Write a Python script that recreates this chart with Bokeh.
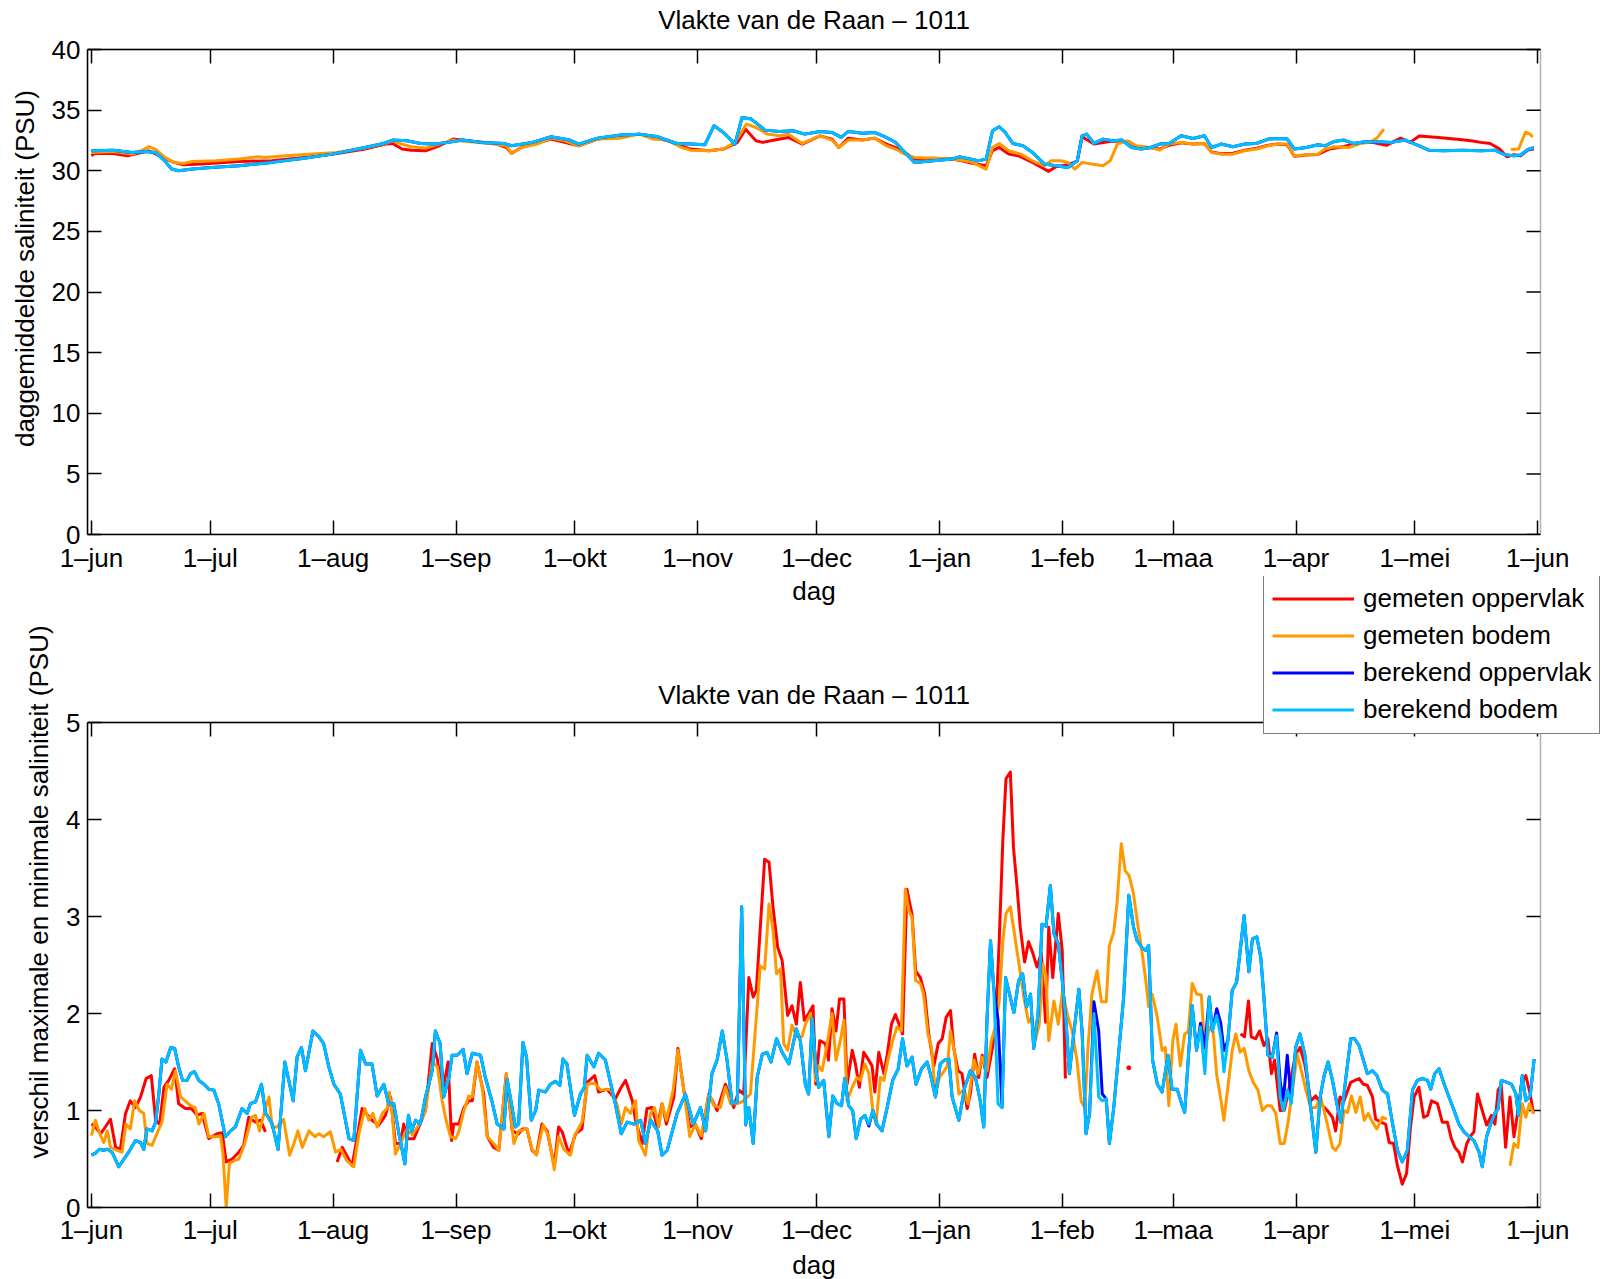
import numpy as np
from bokeh.plotting import figure
from bokeh.models import Range1d, FixedTicker, LinearAxis, Legend, LegendItem, Label, BoxAnnotation, Title
from bokeh.layouts import column
from bokeh.embed import file_html
from bokeh.resources import INLINE

nan = float("nan")

# ---------------- axis data ----------------
maand_dag = [0, 30, 61, 92, 122, 153, 183, 214, 245, 273, 304, 334, 365]
maand_label = ["1–jun", "1–jul", "1–aug", "1–sep", "1–okt", "1–nov", "1–dec",
               "1–jan", "1–feb", "1–maa", "1–apr", "1–mei", "1–jun"]
yticks_boven = [0, 5, 10, 15, 20, 25, 30, 35, 40]
yticks_onder = [0, 1, 2, 3, 4, 5]
titel = "Vlakte van de Raan – 1011"
ylabel_boven = "daggemiddelde saliniteit (PSU)"
ylabel_onder = "verschil maximale en minimale saliniteit (PSU)"
xlabel = "dag"
namen = ["gemeten oppervlak", "gemeten bodem", "berekend oppervlak", "berekend bodem"]

# ---------------- top panel: daily mean salinity ----------------
dag_gem_opp_boven = [0, 0.8, 5.5, 9.1, 14.4, 18.5, 20.8, 23.2, 27.9, 37.3, 45.5, 53.7, 62, 69, 74.3, 76, 78.4, 80.7, 84.3, 87.8,
    91.3, 94.8, 101.9, 104.8, 106, 108.4, 116, 123, 127.7, 138.3, 145.4, 151.2, 155.9, 159.5, 163, 165.1, 167.7, 169.4, 172.4, 175.9,
    179.4, 183.9, 186.9, 188.6, 191, 194.6, 197.6, 200.6, 202.9, 205.3, 207.7, 212.5, 217.2, 219.6, 222.6, 225.8, 227.4, 229.1, 231.5, 233.9,
    237.5, 240.5, 241.6, 243.4, 246.4, 248.8, 250, 253, 257.7, 261.9, 263.7, 267.3, 269.6, 272, 275, 278, 280.9, 282.7, 285.1, 288.1,
    291.1, 294, 297, 299.4, 301.8, 303.6, 306.6, 309.5, 312.5, 316.1, 319.7, 323.2, 326.8, 330.4, 332.8, 335.1, 339.9, 344.7, 348.2, 350.6,
    353, 355.4, 357.2, 359, 360.7, 362.5, 364]
gem_opp_boven = [31.24, 31.43, 31.43, 31.24, 31.65, 31.04, 30.69, 30.50, 30.55, 30.77, 30.82, 31.10, 31.43, 31.79, 32.20, 32.25, 31.79, 31.70, 31.65, 32.06,
    32.61, 32.47, 32.25, 31.92, 31.43, 31.92, 32.61, 32.06, 32.61, 33.02, 32.47, 31.79, 31.65, 31.79, 32.34, 33.43, 32.47, 32.34, 32.53, 32.75,
    32.20, 32.88, 32.61, 31.92, 32.69, 32.53, 32.69, 32.20, 31.92, 31.51, 30.96, 31.04, 30.96, 30.82, 30.60, 30.41, 31.65, 31.92, 31.37, 31.24,
    30.69, 30.14, 29.95, 30.33, 30.50, 30.80, 32.80, 32.20, 32.45, 32.40, 31.95, 31.90, 31.80, 32.10, 32.30, 32.20, 32.25, 31.55, 31.40, 31.45,
    31.70, 31.85, 32.10, 32.20, 32.15, 31.20, 31.30, 31.35, 31.80, 32.00, 32.30, 32.35, 32.10, 32.69, 32.34, 32.86, 32.75, 32.60, 32.47, 32.34,
    32.25, 31.79, 31.15, 31.32, 31.24, 31.70, 31.80]

dag_gem_bod_boven = [0, 5.5, 10.2, 12.6, 14.4, 16.1, 18.5, 20.8, 23.2, 25.5, 31.4, 37.3, 42, 43.7, 49, 54.9, 62, 69, 73.7, 76,
    78.4, 80.7, 84.3, 87.8, 91.3, 94.8, 100.7, 104.8, 106, 108.4, 112.5, 116, 119.5, 123, 127.7, 133.6, 138.3, 141.8, 145.4, 148.9,
    151.2, 155.9, 159.5, 162.4, 165.3, 167.7, 170.6, 173.6, 175.9, 179.4, 183.9, 186.9, 188.6, 191, 194.6, 197.6, 200.6, 202.9, 205.3, 207.7,
    212.5, 217.2, 222, 225.8, 227.4, 229.1, 231.5, 234.5, 237.5, 240.5, 242.2, 244.6, 246.4, 248.2, 250, 252.4, 255.3, 257.1, 258.9, 261.3,
    263.7, 267.3, 269.6, 272, 275, 278, 280.9, 282.7, 285.1, 288.1, 291.1, 294, 297, 299.4, 301.8, 303.6, 306.6, 309.5, 311.3, 313.7,
    317.3, 320.2, 322.6, 324.4, 326.2, 340, 358.2, 360.2, 361.9, 362.9, 363.8]
gem_bod_boven = [31.51, 31.59, 31.37, 31.65, 31.98, 31.79, 31.10, 30.69, 30.60, 30.77, 30.82, 30.96, 31.15, 31.10, 31.24, 31.37, 31.51, 31.87, 32.20, 32.47,
    32.20, 31.98, 31.87, 32.20, 32.53, 32.42, 32.25, 32.06, 31.43, 31.92, 32.20, 32.69, 32.47, 32.06, 32.61, 32.69, 33.02, 32.61, 32.53, 31.92,
    31.70, 31.65, 31.79, 32.34, 33.85, 33.57, 33.02, 32.88, 33.02, 32.25, 32.88, 32.53, 31.92, 32.53, 32.53, 32.69, 32.06, 31.79, 31.37, 31.10,
    31.04, 30.96, 30.74, 30.14, 31.92, 32.25, 31.65, 31.37, 30.82, 30.41, 30.82, 30.82, 30.69, 30.14, 30.69, 30.55, 30.41, 30.82, 32.20, 32.47,
    32.06, 31.92, 31.70, 32.20, 32.34, 32.20, 32.25, 31.51, 31.37, 31.37, 31.65, 31.79, 32.06, 32.20, 32.20, 31.24, 31.32, 31.37, 31.79, 31.98,
    31.92, 32.25, 32.34, 32.69, 33.43, nan, 31.75, 31.80, 33.18, 33.05, 32.80]

dag_ber_boven = [0, 5.5, 10.2, 13.8, 16.1, 18.5, 20.2, 22, 25.5, 30.2, 37.3, 45.5, 53.7, 60.8, 69, 73.7, 76, 79.6, 83.1, 86.6,
    90.1, 93.7, 98.4, 104.2, 106, 111.3, 116, 120.7, 123, 127.7, 133.6, 138.3, 143, 147.7, 151.2, 154.8, 157.1, 159.5, 162.4, 164.2,
    166.5, 170, 173.6, 177.1, 180, 183.9, 186.9, 189.2, 191, 194.6, 197.6, 200.6, 202.9, 205.3, 207.7, 212.5, 217.2, 219, 222, 223.8,
    225.8, 227.4, 229.1, 230.6, 232.5, 235.1, 237.5, 240.5, 243.4, 246.4, 248.8, 250, 251.2, 253, 255.3, 257.7, 260.1, 262.5, 264.9, 267.3,
    269.6, 272, 275, 278, 280.9, 282.7, 285.1, 288.1, 291.1, 294, 297, 299.4, 301.8, 303.6, 306.6, 309.5, 311.3, 313.7, 316.1, 318.5,
    321.4, 324.4, 328, 331.6, 335.1, 337.5, 341.1, 345.9, 350.6, 354.2, 356.6, 359, 360.7, 362.5, 364]
ber_bod_boven = [31.65, 31.70, 31.51, 31.59, 31.51, 30.82, 30.14, 30.00, 30.14, 30.27, 30.41, 30.69, 31.04, 31.37, 31.92, 32.25, 32.53, 32.47, 32.25, 32.20,
    32.34, 32.53, 32.34, 32.25, 32.06, 32.34, 32.80, 32.53, 32.20, 32.69, 32.94, 33.02, 32.80, 32.25, 32.20, 32.14, 33.71, 33.16, 32.20, 34.40,
    34.26, 33.35, 33.24, 33.30, 33.02, 33.24, 33.16, 32.75, 33.24, 33.10, 33.16, 32.75, 32.34, 31.51, 30.69, 30.82, 30.96, 31.15, 30.96, 30.82,
    30.96, 33.30, 33.63, 33.16, 32.25, 32.06, 31.51, 30.55, 30.41, 30.27, 30.82, 32.88, 33.02, 32.25, 32.61, 32.47, 32.53, 31.92, 31.79, 31.92,
    32.20, 32.25, 32.88, 32.66, 32.88, 31.92, 32.20, 31.98, 32.20, 32.25, 32.61, 32.66, 32.61, 31.79, 31.92, 32.14, 32.06, 32.42, 32.53, 32.25,
    32.39, 32.39, 32.34, 32.53, 32.06, 31.70, 31.65, 31.70, 31.65, 31.70, 31.32, 31.24, 31.30, 31.75, 31.90]
# berekend oppervlak lies under berekend bodem in the top panel
ber_opp_boven = [31.65, 31.70, 31.51, 31.59, 31.51, 30.82, 30.14, 30.00, 30.14, 30.27, 30.41, 30.69, 31.04, 31.37, 31.92, 32.25, 32.53, 32.47, 32.25, 32.20,
    32.34, 32.53, 32.34, 32.25, 32.06, 32.34, 32.80, 32.53, 32.20, 32.69, 32.94, 33.02, 32.80, 32.25, 32.20, 32.14, 33.71, 33.16, 32.20, 34.40,
    34.26, 33.35, 33.24, 33.30, 33.02, 33.24, 33.16, 32.75, 33.24, 33.10, 33.16, 32.75, 32.34, 31.51, 30.69, 30.82, 30.96, 31.15, 30.96, 30.82,
    30.96, 33.30, 33.63, 33.16, 32.25, 32.06, 31.51, 30.55, 30.41, 30.27, 30.82, 32.88, 33.02, 32.25, 32.61, 32.47, 32.53, 31.92, 31.79, 31.92,
    32.20, 32.25, 32.88, 32.66, 32.88, 31.92, 32.20, 31.98, 32.20, 32.25, 32.61, 32.66, 32.61, 31.79, 31.92, 32.14, 32.06, 32.42, 32.53, 32.25,
    32.39, 32.39, 32.34, 32.53, 32.06, 31.70, 31.65, 31.70, 31.65, 31.70, 31.32, 31.24, 31.30, 31.75, 31.90]

# ---------------- bottom panel: daily max - min salinity ----------------
dag_gem_opp_onder = [0, 1, 2.3, 3.5, 4.8, 6.1, 7.3, 8.6, 9.8, 11.1, 12.4, 13.8, 15.1, 16.2, 17.2, 18.3, 19.5, 21, 22, 23.7,
    25.2, 26.7, 27.9, 29.6, 31.7, 33, 34, 35.5, 37.2, 38.4, 39.7, 41.4, 42.7, 43.9, 53, 62, 63.3, 65.8, 68.3, 70.8,
    72.5, 74.2, 75.5, 76.7, 78, 78.8, 79.7, 81.4, 82.6, 84.3, 86, 87.3, 88.5, 90, 90.9, 91.4, 92.7, 94, 95.2, 96.1,
    97.3, 99, 99.9, 101.5, 102.8, 104.7, 106.2, 107.8, 108.7, 109.9, 111.2, 112.3, 113.7, 115, 116.8, 117.9, 118.8, 120.5, 122.2, 123.8,
    125.1, 127, 128, 130.1, 132.2, 133.7, 134.8, 136.5, 137.3, 139, 140.2, 141.5, 142.8, 144, 145.1, 147, 148, 149.5, 151, 152.4,
    153.9, 155.8, 157.9, 160, 162.1, 163.4, 164.6, 165.9, 167, 167.8, 168.8, 169.9, 171, 172, 173.2, 174.3, 175.7, 176.8, 177.9, 178.9,
    179.9, 181, 182.1, 182.8, 183.8, 185.2, 186, 186.9, 187.9, 188.8, 189.9, 190.7, 192, 192.8, 193.8, 194.9, 196, 197, 197.7, 198.7,
    200, 200.8, 201.9, 202.9, 203.9, 204.7, 205.8, 207.1, 208, 209.2, 210.3, 211.3, 212.6, 213.7, 214.7, 215.7, 216.8, 217.6, 218.7, 219.7,
    221, 221.8, 222.9, 223.9, 224.8, 226, 227.1, 228.1, 229.1, 230, 230.8, 231.9, 232.7, 233.6, 234.4, 235.5, 236.5, 237.6, 238.6, 239.7,
    240.8, 241.6, 242.6, 244, 245, 245.8, 253, 261.8, 275, 290, 291, 292, 292.7, 293.8, 294.8, 295.9, 296.9, 297.8, 298.6, 300,
    301, 301.8, 303.9, 305, 306.2, 307.7, 309, 310.2, 311.9, 313.2, 314, 315.1, 316.1, 317.8, 319.9, 321, 322, 323.3, 324.1, 325.4,
    326.6, 327.5, 328.6, 329.6, 330.8, 331.9, 332.9, 333.8, 335, 336.2, 337.2, 338.2, 339.7, 340.9, 342.2, 343.2, 344.1, 345.1, 346, 347.1,
    348.1, 348.9, 349.8, 351, 352.1, 353.3, 354.2, 355, 355.8, 356.9, 358, 359, 359.9, 360.9, 362, 363.1, 363.9]
gem_opp_onder = [0.86, 0.83, 0.76, 0.83, 0.91, 0.62, 0.60, 0.97, 1.10, 1.03, 1.14, 1.33, 1.36, 0.90, 0.86, 1.24, 1.31, 1.43, 1.07, 1.02,
    1.02, 0.95, 0.97, 0.71, 0.76, 0.77, 0.47, 0.50, 0.57, 0.64, 0.93, 0.88, 0.90, 0.78, nan, 0.47, 0.62, 0.43, 1.02, 0.90,
    0.85, 0.95, 1.14, 0.66, 0.66, 0.86, 0.71, 0.71, 0.83, 1.00, 1.69, 1.53, 1.17, 1.50, 0.69, 0.86, 0.86, 1.03, 1.10, 1.10,
    1.50, 1.17, 0.73, 0.62, 0.59, 1.38, 0.79, 0.76, 0.81, 0.81, 0.59, 0.55, 0.86, 0.79, 0.43, 0.83, 0.78, 0.55, 0.76, 0.81,
    1.29, 1.36, 1.19, 1.22, 1.12, 1.24, 1.31, 1.10, 0.90, 0.66, 1.02, 1.03, 0.83, 1.07, 0.86, 1.14, 1.64, 1.21, 0.83, 0.86,
    0.71, 1.17, 1.00, 1.27, 1.03, 1.21, 1.17, 2.37, 2.17, 2.24, 2.89, 3.59, 3.56, 3.10, 2.68, 2.55, 1.98, 2.08, 1.89, 2.32,
    1.93, 2.00, 2.08, 1.27, 1.72, 1.69, 1.52, 2.05, 1.82, 2.15, 2.15, 1.27, 1.62, 1.48, 1.24, 1.60, 1.53, 1.46, 1.19, 1.60,
    1.38, 1.57, 1.89, 1.99, 1.88, 1.79, 3.28, 3.02, 2.44, 2.37, 2.20, 1.79, 1.46, 1.69, 1.74, 1.96, 2.03, 1.65, 1.41, 1.38,
    1.02, 1.17, 1.58, 1.34, 1.57, 1.34, 1.58, 1.82, 2.75, 3.78, 4.42, 4.49, 3.71, 3.30, 2.89, 2.53, 2.74, 2.62, 2.48, 2.62,
    1.91, 2.89, 2.37, 3.03, 2.65, 1.33, nan, 1.44, nan, 1.79, 1.76, 2.13, 1.76, 1.74, 1.82, 1.67, 1.74, 1.38, 1.52, 1.00,
    1.00, 1.14, 1.58, 1.65, 1.48, 1.10, 1.15, 1.07, 1.00, 0.93, 0.79, 1.14, 1.10, 1.29, 1.33, 1.27, 1.26, 1.14, 0.91, 0.88,
    0.86, 0.67, 0.66, 0.43, 0.24, 0.35, 0.83, 1.14, 1.24, 0.93, 0.95, 1.10, 1.07, 0.88, 0.88, 0.71, 0.62, 0.57, 0.47, 0.66,
    0.74, 0.78, 1.17, 1.00, 0.85, 0.95, 0.86, 1.21, 1.26, 0.62, 1.14, 0.73, 0.97, 1.27, 1.36, 1.17, 0.97]

dag_gem_bod_onder = [0, 1, 2.3, 3.1, 4, 4.8, 6.5, 7.7, 8.7, 9.8, 10.9, 12.1, 13.2, 14, 15.3, 16.6, 17.8, 19.1, 20.2, 21.2,
    22.5, 23.7, 25, 26.2, 27.1, 28.4, 29.6, 31.3, 32.6, 33.2, 34, 34.8, 35.9, 37.2, 38.7, 40.4, 41.4, 42.4, 43.9, 44.8,
    45.6, 46.9, 48.5, 50, 51.1, 52.1, 53.2, 54.9, 56.4, 57.4, 58.6, 60.3, 61.6, 62.9, 64.5, 66.2, 67.5, 69, 70, 71,
    72.1, 73.4, 74.6, 75.2, 75.9, 76.7, 78, 79.5, 81, 82.6, 84.3, 86, 87.3, 88.5, 89.5, 90.6, 91.9, 92.7, 94, 95.2,
    96.1, 97.3, 98.6, 99.9, 101.5, 102.8, 104.7, 106.6, 107.8, 109.9, 111.2, 112.3, 114, 115.4, 116.8, 117.9, 119.2, 120.9, 121.9, 123.8,
    125.1, 127, 128.5, 131, 132.7, 133.7, 134.8, 136, 137.3, 138.1, 139.8, 141.1, 142.1, 143.2, 144, 145.1, 146.8, 148, 149.5, 151,
    152.4, 153.9, 155.8, 157.1, 158.7, 160, 161.3, 163, 164.6, 166.3, 167.6, 168.8, 169.9, 171, 172, 172.9, 173.9, 174.7, 175.7, 176.8,
    178, 179.3, 180.2, 181.5, 182.7, 183.5, 184.4, 185.6, 186.9, 187.9, 189, 189.9, 190.7, 192, 193.2, 194.1, 195.2, 196.2, 197.2, 198,
    199.1, 200, 201, 202.2, 203.3, 204.4, 205.4, 206.3, 207.1, 208, 209.2, 210, 211.1, 212, 213, 214, 215.1, 216, 216.8, 217.9,
    218.9, 220.1, 221.2, 222.7, 223.8, 224.8, 226, 227.1, 228.1, 229.1, 230, 230.8, 231.9, 233.2, 234.2, 235.3, 236.5, 237.4, 238.2, 239.2,
    240.1, 240.9, 241.6, 242.9, 244, 245.1, 246.2, 247.5, 248.7, 249.8, 250.7, 251.5, 252.5, 253.8, 254.9, 256.1, 256.9, 258, 258.8, 259.9,
    260.9, 261.9, 263, 263.9, 265, 266, 266.8, 267.7, 269, 270.2, 271, 271.9, 272.9, 273.7, 274.8, 275.9, 276.8, 277.8, 278.9, 280.1,
    281, 282.1, 283.1, 284, 285, 285.8, 286.8, 287.9, 288.8, 289.9, 290.9, 292.1, 293.2, 294.4, 295.5, 296.6, 297.8, 298.9, 300, 301,
    302, 303.1, 304.3, 305.4, 306.5, 307.7, 309, 310.2, 311.9, 313.2, 314, 315.1, 316.1, 317, 318, 319.1, 320.2, 321.2, 322.2, 323.3,
    324.4, 325.8, 326.9, 342, 358, 359, 360, 361.1, 362, 362.9, 363.9]
gem_bod_onder = [0.74, 0.90, 0.74, 0.67, 0.79, 0.62, 0.59, 0.57, 0.86, 0.81, 1.10, 1.00, 0.97, 0.66, 0.64, 0.77, 0.88, 1.27, 1.22, 1.41,
    1.14, 1.10, 1.05, 1.03, 0.86, 0.97, 0.73, 0.73, 0.74, 0.55, 0.00, 0.45, 0.48, 0.50, 0.66, 0.93, 0.95, 0.79, 1.02, 1.14,
    0.83, 0.83, 0.91, 0.54, 0.66, 0.79, 0.62, 0.79, 0.73, 0.76, 0.73, 0.78, 0.57, 0.60, 0.48, 0.42, 0.76, 1.02, 0.90, 0.97,
    0.83, 0.97, 1.02, 1.19, 0.97, 0.55, 0.66, 0.80, 0.75, 0.85, 1.00, 1.50, 1.45, 1.10, 0.90, 0.73, 0.71, 0.78, 1.00, 1.15,
    1.14, 1.50, 1.24, 0.73, 0.66, 0.59, 1.38, 0.66, 0.79, 0.81, 0.60, 0.54, 0.85, 0.73, 0.39, 0.73, 0.60, 0.54, 0.74, 0.88,
    1.27, 1.28, 1.21, 1.22, 1.05, 0.86, 1.03, 0.97, 1.10, 0.69, 0.54, 0.97, 1.03, 0.83, 1.07, 0.90, 1.21, 1.62, 1.21, 0.73,
    0.86, 0.74, 1.17, 1.05, 1.03, 1.24, 1.07, 1.07, 1.10, 1.17, 1.86, 2.49, 2.46, 3.13, 2.86, 2.41, 2.46, 1.69, 1.62, 1.88,
    1.76, 1.76, 1.89, 2.00, 1.31, 1.46, 1.41, 1.67, 2.00, 1.52, 1.72, 1.93, 1.10, 1.24, 1.34, 1.31, 1.48, 1.38, 1.00, 0.86,
    1.34, 1.31, 1.52, 1.72, 1.86, 1.82, 3.28, 3.06, 2.99, 2.34, 2.31, 2.20, 1.79, 1.65, 1.17, 1.34, 1.40, 1.46, 1.82, 1.58,
    1.17, 1.21, 1.07, 1.52, 1.38, 1.55, 1.41, 1.72, 1.86, 2.13, 2.75, 3.03, 3.10, 2.75, 2.48, 2.17, 1.91, 1.96, 1.72, 1.89,
    2.51, 2.39, 1.72, 2.13, 1.89, 2.24, 2.00, 1.82, 1.52, 1.09, 1.03, 1.65, 2.20, 2.44, 2.12, 2.12, 2.70, 2.84, 3.13, 3.75,
    3.47, 3.42, 3.23, 2.96, 2.67, 2.37, 2.07, 2.20, 1.96, 1.62, 1.65, 1.05, 1.72, 1.89, 1.46, 1.79, 1.81, 2.31, 2.20, 2.19,
    1.62, 1.86, 1.81, 1.36, 1.12, 0.90, 1.24, 1.62, 1.79, 1.60, 1.64, 1.41, 1.29, 1.21, 1.00, 1.05, 1.05, 0.97, 0.66, 0.66,
    0.88, 1.21, 1.58, 1.40, 1.21, 1.03, 1.03, 1.14, 0.86, 0.62, 0.59, 0.66, 1.00, 0.98, 1.15, 0.98, 1.14, 0.90, 0.97, 0.88,
    0.81, 0.93, 0.91, nan, 0.43, 0.66, 0.62, 1.07, 0.93, 1.07, 0.97]

dag_ber_onder = [0, 1, 2, 3, 4, 5.2, 6.9, 8.2, 9.4, 11.1, 12.4, 13.2, 14, 15.3, 16.2, 17, 17.8, 18.8, 20, 21,
    22, 23, 24.1, 25, 26, 27.1, 28.4, 29.6, 30.9, 32.1, 33.8, 35.1, 36.3, 38, 39.3, 40.1, 41.4, 42.9, 43.9, 45.6,
    47.1, 48.8, 49.8, 50.9, 51.9, 53, 54, 55.9, 57.4, 58.6, 59.9, 61.2, 62.8, 65, 66.2, 67.9, 69.2, 70.8, 72.1, 73.8,
    75, 76.3, 77.6, 79.1, 80, 80.8, 81.8, 83, 84.3, 86, 86.8, 88, 88.9, 90.2, 91, 92.3, 93.8, 94.8, 96.1, 98.2,
    99.4, 101.1, 102.4, 104.1, 104.9, 105.7, 107, 107.8, 108.9, 109.8, 111, 112.1, 112.9, 114.6, 115.8, 117.1, 118.2, 119, 120, 121.9,
    123.4, 124.4, 125.1, 126.8, 128, 129.7, 132.2, 133.7, 135.2, 136.9, 138.6, 139.8, 141.1, 142.9, 144, 145.3, 147.8, 149.9, 151.9, 153.7,
    155, 156.6, 157.9, 159.2, 160.4, 161.7, 163, 164.1, 165.1, 165.9, 167, 168, 169.3, 170.5, 171.5, 172.9, 174.3, 176, 177.9, 178.9,
    180.2, 181, 181.9, 182.9, 183.5, 184.8, 186.1, 187.1, 188.2, 189.3, 190.1, 191.1, 192.1, 193, 194.1, 195.2, 196.2, 197.2, 198.3, 199.5,
    200.8, 202.2, 203.6, 204.7, 205.8, 207.1, 208.1, 209.5, 210.9, 211.7, 213, 214.2, 215.3, 216.4, 217.2, 218.9, 220.4, 221.8, 223.1, 224.3,
    225.2, 226, 226.9, 227.7, 228.8, 229.8, 230.7, 231.7, 232.8, 234, 235, 236, 237, 237.8, 238.9, 239.9, 240.9, 242, 242.9, 244,
    245, 246, 246.8, 247.9, 249.2, 250, 251, 251.9, 253, 254.2, 255.1, 256.1, 256.9, 258, 259.3, 260.5, 261.8, 263, 263.9, 265.1,
    266, 266.8, 267.8, 269, 270.2, 271.7, 272.7, 274, 274.9, 275.9, 277, 277.8, 278.9, 279.9, 281, 282.1, 282.9, 284, 285, 285.8,
    286.8, 287.9, 289, 290, 290.9, 292.1, 293, 294.1, 295.1, 295.9, 296.9, 298, 299.1, 300, 300.8, 301.8, 302.8, 303.9, 305, 306.2,
    307.7, 309, 310.1, 311.1, 312.1, 313.2, 314.3, 315.3, 316.5, 317.8, 318.8, 319.9, 321, 322, 323.3, 324.4, 325.8, 327.1, 328.3, 329.6,
    330.8, 332.1, 333.4, 334.6, 335.9, 337.2, 338, 339, 340.1, 341.4, 342.6, 343.9, 345.1, 346.4, 347.7, 348.9, 350.2, 351, 352.1, 353.1,
    354.2, 355, 355.8, 357.3, 358.4, 359.5, 360.1, 361.1, 362, 363.1, 364.1]
ber_bod_onder = [0.54, 0.56, 0.60, 0.59, 0.60, 0.57, 0.42, 0.50, 0.57, 0.69, 0.67, 0.60, 0.81, 0.79, 0.88, 1.17, 1.53, 1.50, 1.65, 1.64,
    1.45, 1.31, 1.31, 1.38, 1.40, 1.31, 1.27, 1.22, 1.21, 1.07, 0.73, 0.79, 0.83, 1.02, 0.97, 1.07, 1.09, 1.27, 0.98, 0.86,
    0.60, 1.50, 1.31, 1.10, 1.55, 1.65, 1.41, 1.82, 1.76, 1.69, 1.45, 1.27, 1.17, 0.71, 0.69, 1.62, 1.48, 1.48, 1.15, 1.27,
    1.07, 1.07, 0.76, 0.45, 0.95, 0.79, 0.90, 0.86, 1.14, 1.41, 1.82, 1.69, 1.14, 1.34, 1.57, 1.57, 1.63, 1.38, 1.59, 1.57,
    1.34, 1.09, 0.86, 0.81, 1.32, 1.14, 0.83, 0.86, 1.70, 1.55, 0.90, 1.00, 1.21, 1.19, 1.27, 1.30, 1.26, 1.53, 1.48, 0.95,
    1.17, 1.24, 1.57, 1.45, 1.59, 1.52, 1.07, 0.76, 0.88, 0.86, 0.90, 0.66, 0.90, 0.79, 0.54, 0.59, 0.97, 1.17, 0.86, 1.03,
    0.79, 1.38, 1.52, 1.82, 1.52, 1.07, 1.09, 3.10, 0.85, 1.03, 0.66, 1.34, 1.58, 1.60, 1.50, 1.74, 1.60, 1.48, 1.84, 1.72,
    1.26, 1.17, 1.95, 1.40, 1.24, 1.31, 0.73, 1.15, 1.07, 1.05, 1.33, 1.05, 1.00, 0.71, 0.91, 0.95, 0.86, 1.00, 0.85, 0.79,
    1.03, 1.31, 1.43, 1.74, 1.46, 1.55, 1.27, 1.43, 1.50, 1.38, 1.14, 1.48, 1.52, 1.53, 1.14, 0.90, 1.24, 1.41, 1.34, 1.10,
    0.83, 1.93, 2.75, 2.27, 1.07, 1.03, 2.37, 2.20, 2.01, 2.34, 2.41, 2.07, 2.20, 1.64, 2.00, 2.92, 2.90, 3.32, 2.82, 2.72,
    2.34, 1.89, 1.38, 1.79, 2.25, 1.82, 0.76, 0.97, 2.00, 1.14, 1.10, 1.12, 0.66, 1.03, 1.62, 2.17, 3.22, 2.89, 2.75, 2.68,
    2.65, 2.70, 1.52, 1.27, 1.19, 1.57, 1.22, 1.22, 1.10, 0.98, 1.65, 2.08, 1.62, 1.86, 1.38, 2.17, 1.82, 1.98, 1.76, 1.40,
    1.72, 2.24, 2.32, 2.68, 3.01, 2.43, 2.77, 2.79, 2.58, 2.17, 1.57, 1.55, 1.77, 1.14, 1.00, 1.21, 1.07, 1.65, 1.79, 1.58,
    1.03, 0.57, 1.14, 1.36, 1.50, 1.31, 1.07, 0.88, 1.31, 1.74, 1.74, 1.67, 1.52, 1.38, 1.41, 1.36, 1.21, 1.17, 0.88, 0.59,
    0.47, 0.59, 1.21, 1.31, 1.33, 1.31, 1.22, 1.38, 1.43, 1.27, 1.14, 1.00, 0.86, 0.78, 0.73, 0.69, 0.57, 0.42, 0.73, 0.86,
    0.97, 1.02, 1.31, 1.29, 1.27, 1.17, 0.95, 1.36, 1.10, 1.15, 1.53]
ber_opp_onder = [0.54, 0.56, 0.60, 0.59, 0.60, 0.57, 0.42, 0.50, 0.57, 0.69, 0.67, 0.60, 0.81, 0.79, 0.88, 1.17, 1.53, 1.50, 1.65, 1.64,
    1.45, 1.31, 1.31, 1.38, 1.40, 1.31, 1.27, 1.22, 1.21, 1.07, 0.73, 0.79, 0.83, 1.02, 0.97, 1.07, 1.09, 1.27, 0.98, 0.86,
    0.60, 1.50, 1.31, 1.10, 1.55, 1.65, 1.41, 1.82, 1.76, 1.69, 1.45, 1.27, 1.17, 0.71, 0.69, 1.62, 1.48, 1.48, 1.15, 1.27,
    1.07, 1.07, 0.76, 0.45, 0.95, 0.79, 0.90, 0.86, 1.14, 1.41, 1.82, 1.69, 1.14, 1.34, 1.57, 1.57, 1.63, 1.38, 1.59, 1.57,
    1.34, 1.09, 0.86, 0.81, 1.32, 1.14, 0.83, 0.86, 1.70, 1.55, 0.90, 1.00, 1.21, 1.19, 1.27, 1.30, 1.26, 1.53, 1.48, 0.95,
    1.17, 1.24, 1.57, 1.45, 1.59, 1.52, 1.07, 0.76, 0.88, 0.86, 0.90, 0.66, 0.90, 0.79, 0.54, 0.59, 0.97, 1.17, 0.86, 1.03,
    0.79, 1.38, 1.52, 1.82, 1.52, 1.07, 1.09, 3.10, 0.85, 1.03, 0.66, 1.34, 1.58, 1.60, 1.50, 1.74, 1.60, 1.48, 1.84, 1.72,
    1.26, 1.17, 1.95, 1.40, 1.24, 1.31, 0.73, 1.15, 1.07, 1.05, 1.33, 1.05, 1.00, 0.71, 0.91, 0.95, 0.84, 1.00, 0.85, 0.79,
    1.03, 1.31, 1.43, 1.74, 1.46, 1.55, 1.27, 1.43, 1.50, 1.38, 1.14, 1.48, 1.52, 1.53, 1.14, 0.90, 1.24, 1.41, 1.34, 1.10,
    0.83, 1.93, 2.75, 2.27, 1.93, 1.03, 2.37, 2.20, 2.01, 2.34, 2.41, 2.07, 2.20, 1.64, 2.00, 2.92, 2.90, 3.32, 2.82, 2.72,
    2.34, 1.89, 1.38, 1.79, 2.25, 1.82, 0.76, 0.97, 2.12, 1.82, 1.17, 1.12, 0.66, 1.03, 1.62, 2.17, 3.22, 2.89, 2.75, 2.68,
    2.65, 2.70, 1.52, 1.27, 1.19, 1.57, 1.22, 1.22, 1.10, 0.98, 1.65, 2.08, 1.62, 1.90, 1.65, 2.17, 1.82, 2.05, 1.90, 1.62,
    1.72, 2.24, 2.32, 2.68, 3.01, 2.43, 2.77, 2.79, 2.58, 2.17, 1.57, 1.55, 1.80, 1.30, 1.10, 1.57, 1.10, 1.65, 1.79, 1.58,
    1.03, 0.57, 1.14, 1.36, 1.50, 1.31, 1.07, 0.88, 1.31, 1.74, 1.74, 1.67, 1.52, 1.38, 1.41, 1.36, 1.21, 1.17, 0.88, 0.59,
    0.47, 0.59, 1.21, 1.31, 1.33, 1.31, 1.22, 1.38, 1.43, 1.27, 1.14, 1.00, 0.86, 0.78, 0.73, 0.69, 0.57, 0.42, 0.73, 0.86,
    0.97, 1.02, 1.31, 1.29, 1.27, 1.17, 0.95, 1.36, 1.10, 1.15, 1.53]

# ---------------- styling / layout ----------------
FONT = "Liberation Sans"
FS = "26px"
KLEUREN = ["#FF0000", "#FF9900", "#0000FF", "#00BFFF"]
LW = 3
X0, X1 = -1.0, 365.7          # visible day range of both panels
PX_PER_DAY = 1453 / (X1 - X0)
W = 1611                      # canvas width (page has no margin)
BL, BR = 87, 4                # left / right borders (aligned between both figures)
X_END = X0 + (W - BL - BR) / PX_PER_DAY
DAG_W = 43.4                  # rendered width of the "dag" label (26px)

for a, b, n in [(dag_gem_opp_boven, gem_opp_boven, "r1"), (dag_gem_bod_boven, gem_bod_boven, "o1"),
                (dag_ber_boven, ber_bod_boven, "c1"), (dag_ber_boven, ber_opp_boven, "b1"),
                (dag_gem_opp_onder, gem_opp_onder, "r2"), (dag_gem_bod_onder, gem_bod_onder, "o2"),
                (dag_ber_onder, ber_bod_onder, "c2"), (dag_ber_onder, ber_opp_onder, "b2")]:
    if len(a) != len(b):
        raise ValueError(f"{n}: {len(a)} vs {len(b)}")


def style_axis(ax, ticks, bounds, labels=True):
    ax.ticker = FixedTicker(ticks=ticks)
    ax.bounds = bounds
    ax.axis_line_color = "black"
    ax.axis_line_width = 1.5
    ax.major_tick_line_color = "black"
    ax.major_tick_line_width = 1.5
    ax.major_tick_in = 14
    ax.major_tick_out = 0
    ax.minor_tick_line_color = None
    ax.major_label_text_font = FONT
    ax.major_label_text_font_size = FS
    ax.major_label_text_color = "black"
    if not labels:
        ax.major_label_text_color = None
        ax.major_label_text_font_size = "1px"
        ax.major_label_standoff = 0
    ax.axis_label_text_font = FONT
    ax.axis_label_text_font_size = FS
    ax.axis_label_text_font_style = "normal"
    ax.axis_label_text_color = "black"


def make_fig(height, y_end, ymax, yticks, ylabel, bt, bb):
    p = figure(width=W, height=height, x_range=Range1d(X0, X_END), y_range=Range1d(0, y_end),
               output_backend="svg", toolbar_location=None, title=None,
               min_border_left=BL, min_border_right=BR, min_border_top=bt, min_border_bottom=bb)
    p.background_fill_color = "white"
    p.border_fill_color = "white"
    p.outline_line_color = None
    p.xgrid.visible = False
    p.ygrid.visible = False
    xa = p.below[0]
    style_axis(xa, maand_dag, (X0, X1))
    xa.major_label_overrides = {d: l for d, l in zip(maand_dag, maand_label)}
    ya = p.left[0]
    style_axis(ya, yticks, (0, ymax))
    ya.axis_label = ylabel
    ya.major_label_standoff = 7
    ya.axis_label_standoff = 9
    # ticks along the top edge of the axes box
    top = LinearAxis(fixed_location=ymax)
    style_axis(top, maand_dag, (X0, X1), labels=False)
    p.add_layout(top, "above")
    # axes box and ticks along its right edge
    p.add_layout(BoxAnnotation(left=X0, right=X1, bottom=0, top=ymax, fill_color=None, fill_alpha=0,
                               line_color="black", line_width=1.5))
    p.ray(x=[X1] * len(yticks), y=yticks, length=14, length_units="screen", angle=np.pi,
          line_color="black", line_width=1.5)
    return p, xa


def isolated(x, y):
    x = np.asarray(x, float)
    y = np.asarray(y, float)
    fin = np.isfinite(y)
    prev = np.r_[False, fin[:-1]]
    nxt = np.r_[fin[1:], False]
    m = fin & ~prev & ~nxt
    return x[m], y[m]


def draw(p, series):
    rs = []
    for (x, y), c in zip(series, KLEUREN):
        r = p.line(np.asarray(x, float), np.asarray(y, float), line_width=LW, color=c, line_join="round")
        ix, iy = isolated(x, y)
        if len(ix):
            p.scatter(ix, iy, size=4, color=c)
        rs.append(r)
    return rs


def label(p, x, y, text):
    p.add_layout(Label(x=x, y=y, x_units="data", y_units="data", text=text,
                       text_align="center", text_baseline="middle", text_font=FONT,
                       text_font_size=FS, text_color="black"))


XC = (X0 + X1) / 2

# ---- top figure: canvas y 0..575, frame 2..534, axes box 49..534 ----
PX1 = 12.125                         # pixels per PSU in the top panel
p1, xa1 = make_fig(575, 532 / PX1, 40, yticks_boven, ylabel_boven, 2, 41)
xa1.major_label_standoff = 8
draw(p1, [(dag_gem_opp_boven, gem_opp_boven), (dag_gem_bod_boven, gem_bod_boven),
          (dag_ber_boven, ber_opp_boven), (dag_ber_boven, ber_bod_boven)])
label(p1, XC, (534 - 19.6) / PX1, titel)

# ---- bottom figure: canvas y 575..1279, frame 576..1207, axes box 722..1207 ----
PX2 = 97.0                           # pixels per PSU in the bottom panel
p2, xa2 = make_fig(704, 631 / PX2, 5, yticks_onder, ylabel_onder, 1, 72)
xa2.major_label_standoff = 7
# x-axis label of the bottom panel, centred under the axes box (not the wider frame)
p2.add_layout(Title(text=xlabel, align="left", offset=(XC - X0) * PX_PER_DAY - DAG_W / 2, standoff=0,
                    text_font=FONT, text_font_size=FS, text_font_style="normal", text_color="black"),
              "below")
rs = draw(p2, [(dag_gem_opp_onder, gem_opp_onder), (dag_gem_bod_onder, gem_bod_onder),
               (dag_ber_onder, ber_opp_onder), (dag_ber_onder, ber_bod_onder)])
label(p2, XC, (1207 - 694.5) / PX2, titel)
label(p2, XC, (1207 - 590) / PX2, xlabel)      # x-axis label of the top panel

legend = Legend(items=[LegendItem(label=n, renderers=[r]) for n, r in zip(namen, rs)],
                location=(1176, 473), orientation="vertical",
                label_text_font=FONT, label_text_font_size=FS, label_text_color="black",
                glyph_width=82, glyph_height=29, label_height=29, label_standoff=9,
                padding=8, spacing=6, margin=0,
                border_line_color="black", border_line_width=1.5,
                background_fill_color="white", background_fill_alpha=1.0)
p2.add_layout(legend)

layout = column(p1, p2)
open("out.html", "w").write(file_html(layout, INLINE))
